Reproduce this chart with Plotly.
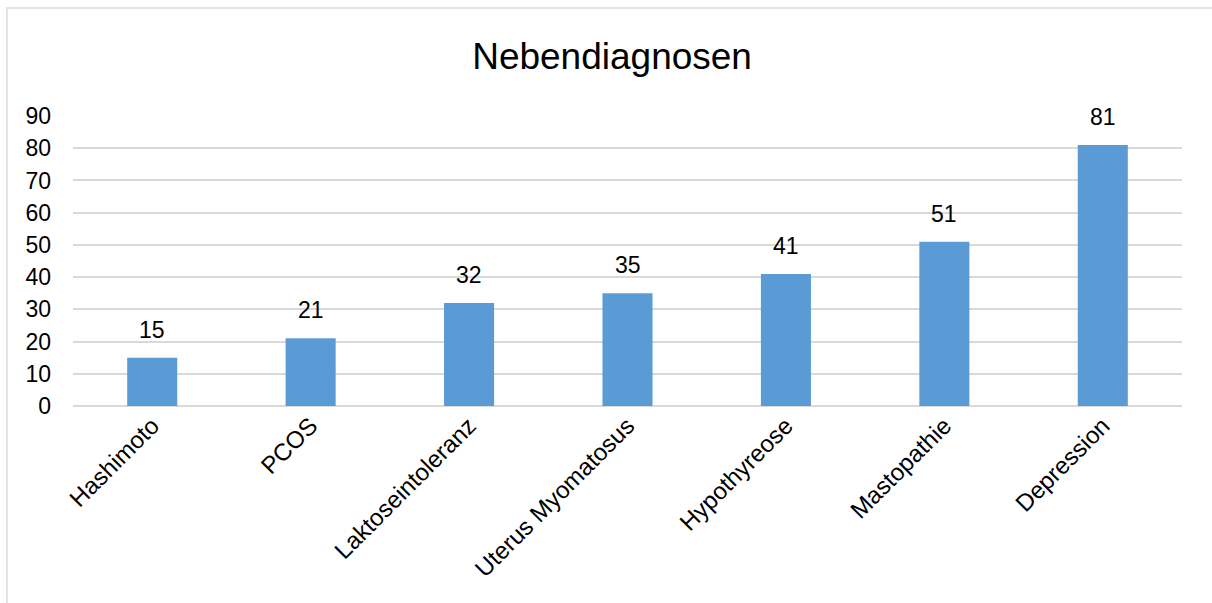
import plotly.graph_objects as go

categories = ["Hashimoto", "PCOS", "Laktoseintoleranz", "Uterus Myomatosus",
              "Hypothyreose", "Mastopathie", "Depression"]
counts = [15, 21, 32, 35, 41, 51, 81]
y_ticks = [0, 10, 20, 30, 40, 50, 60, 70, 80, 90]

FONT = "Liberation Sans, Arial, sans-serif"

fig = go.Figure(
    go.Bar(
        x=categories,
        y=counts,
        marker=dict(color="#5B9BD5", line=dict(width=0)),
    )
)

# value labels floating above each bar
for cat, val in zip(categories, counts):
    fig.add_annotation(
        x=cat, y=val, xref="x", yref="y",
        text=str(val),
        showarrow=False,
        xanchor="center", yanchor="bottom",
        yshift=13,
        font=dict(family=FONT, size=23, color="#000000"),
    )

fig.update_layout(
    width=1212,
    height=603,
    margin=dict(l=73, r=30, t=116, b=197),
    paper_bgcolor="white",
    plot_bgcolor="white",
    bargap=0.684,
    showlegend=False,
    title=dict(
        text="Nebendiagnosen",
        font=dict(family=FONT, size=37, color="#000000"),
        x=0.505,
        xanchor="center",
        y=0.907,
        yanchor="middle",
    ),
    xaxis=dict(
        tickangle=-45,
        tickfont=dict(family=FONT, size=24, color="#000000"),
        showgrid=False,
        showline=False,
        ticks="",
    ),
    yaxis=dict(
        range=[0, 90],
        tickvals=y_ticks,
        tickfont=dict(family=FONT, size=23, color="#000000"),
        showgrid=True,
        gridcolor="#d9d9d9",
        gridwidth=1.5,
        zeroline=True,
        zerolinecolor="#d9d9d9",
        zerolinewidth=1.5,
        showline=False,
        ticks="",
        ticklen=0,
        ticklabelstandoff=21,
    ),
    shapes=[
        dict(
            type="rect", xref="paper", yref="paper",
            x0=-0.0596, x1=1.2, y0=-1.0, y1=1.3724,
            line=dict(color="#d9d9d9", width=1.5),
            fillcolor="rgba(0,0,0,0)",
            layer="below",
        )
    ],
)

fig.write_html("out.html")
